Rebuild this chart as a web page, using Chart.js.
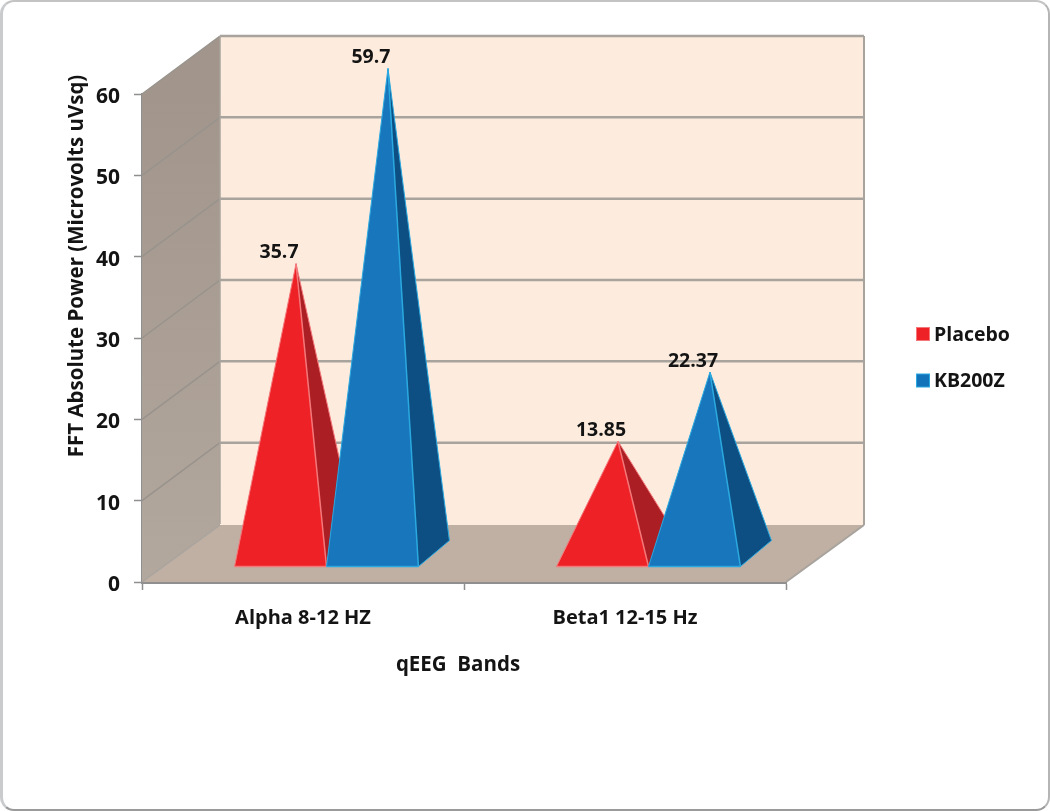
<!DOCTYPE html>
<html lang="en">
<head>
  <meta charset="UTF-8" />
  <title>qEEG Bands</title>
  <style>
    html, body { margin: 0; padding: 0; background: #fff; }
    #frame {
      position: absolute; left: 0; top: 0;
      width: 1050px; height: 811px; box-sizing: border-box;
      border-left: 3px solid #c9cbcd;
      border-bottom: 2px solid #9a9a9a;
      border-right: 2px solid #b5b5b5;
      border-top: 2px solid #c4c4c4;
      border-radius: 14px;
    }
    canvas { position: absolute; left: 0; top: 0; }
  </style>
</head>
<body>
  <div id="frame"></div>
  <canvas id="chart" width="1050" height="811"></canvas>

  <script src="https://cdn.jsdelivr.net/npm/chart.js"></script>
  <script>
    const categories = ['Alpha 8-12 HZ', 'Beta1 12-15 Hz'];
    const seriesNames = ['Placebo', 'KB200Z'];
    const placebo = [35.7, 13.85];
    const kb200z = [59.7, 22.37];
    const valueLabels = [['35.7', '13.85'], ['59.7', '22.37']];
    const yTicks = [0, 10, 20, 30, 40, 50, 60];

    const FONT = '"Open Sans", sans-serif';
    const TEXT = '#141414';

    // 3D look: how far the back wall sits from the front plane
    const DEPTH_X = 78;
    const DEPTH_Y = 58;
    const COLORS = [
      { front: '#ee2226', side: '#ab1e23', edge: '#f4777a' },
      { front: '#1876bc', side: '#0d4f83', edge: '#2aa9e0' }
    ];

    function poly(ctx, pts, fill) {
      ctx.beginPath();
      pts.forEach((p, i) => i ? ctx.lineTo(p[0], p[1]) : ctx.moveTo(p[0], p[1]));
      ctx.closePath();
      ctx.fillStyle = fill;
      ctx.fill();
    }

    function line(ctx, x1, y1, x2, y2, color, width) {
      ctx.beginPath();
      ctx.moveTo(x1, y1);
      ctx.lineTo(x2, y2);
      ctx.strokeStyle = color;
      ctx.lineWidth = width;
      ctx.stroke();
    }

    const wallsPlugin = {
      id: 'walls',
      beforeDatasetsDraw(chart) {
        const { ctx, chartArea: a, scales: { y } } = chart;
        const l = a.left, r = a.right, t = a.top, b = a.bottom;
        ctx.save();
        poly(ctx, [[l + DEPTH_X, t - DEPTH_Y], [r + DEPTH_X, t - DEPTH_Y], [r + DEPTH_X, b - DEPTH_Y + 1], [l + DEPTH_X, b - DEPTH_Y + 1]], '#fdecde');
        const side = ctx.createLinearGradient(0, t, 0, b);
        side.addColorStop(0, '#a2968c');
        side.addColorStop(1, '#b3a89e');
        poly(ctx, [[l, t], [l + DEPTH_X, t - DEPTH_Y], [l + DEPTH_X, b - DEPTH_Y + 1], [l, b]], side);
        poly(ctx, [[l, b], [l + DEPTH_X, b - DEPTH_Y + 1], [r + DEPTH_X, b - DEPTH_Y + 1], [r, b]], '#bfb0a3');
        yTicks.forEach(v => {
          const py = y.getPixelForValue(v);
          if (v > 0) line(ctx, l, py, l + DEPTH_X, py - DEPTH_Y, '#98938d', 1.5);
          if (v > 0) line(ctx, l + DEPTH_X, py - DEPTH_Y, r + DEPTH_X, py - DEPTH_Y, '#a8a39d', 2.5);
        });
        line(ctx, l + DEPTH_X, t - DEPTH_Y, l + DEPTH_X, b - DEPTH_Y, '#a8a39d', 1.5);
        line(ctx, r + DEPTH_X, t - DEPTH_Y, r + DEPTH_X, b - DEPTH_Y + 1, '#a8a39d', 2);
        line(ctx, r, b, r + DEPTH_X, b - DEPTH_Y + 1, '#a8a39d', 2);
        line(ctx, l, b, l + DEPTH_X, b - DEPTH_Y + 1, '#a8a39d', 1.5);
        ctx.restore();
      }
    };

    const pyramidPlugin = {
      id: 'pyramids',
      afterDatasetsDraw(chart) {
        const { ctx } = chart;
        ctx.save();
        // pyramids sit half way into the depth of the floor
        const cx = DEPTH_X / 2, cy = 28;
        const hx = 15.5, hy = 13;
        categories.forEach((c, j) => {
          chart.data.datasets.forEach((ds, i) => {
            const bar = chart.getDatasetMeta(i).data[j];
            const col = COLORS[i];
            const mid = bar.x + cx;
            const hw = bar.width / 2;
            const base = bar.base - cy;
            const apex = [mid, bar.y - cy];
            const fl = [mid - hw - hx, base + hy];
            const fr = [mid + hw - hx, base + hy];
            const br = [mid + hw + hx, base - hy];
            poly(ctx, [fr, br, apex], col.side);
            poly(ctx, [fl, fr, apex], col.front);
            line(ctx, fr[0], fr[1], apex[0], apex[1], col.edge, 1.5);
            line(ctx, fl[0], fl[1], apex[0], apex[1], col.edge, 1);
            line(ctx, br[0], br[1], apex[0], apex[1], col.edge, 1);
            line(ctx, fl[0], fl[1], fr[0], fr[1], col.edge, 1.5);
            line(ctx, fr[0], fr[1], br[0], br[1], col.edge, 1);
          });
        });
        // value labels, up and to the left of each tip
        ctx.font = 'bold 19.5px ' + FONT;
        ctx.fillStyle = TEXT;
        ctx.textAlign = 'center';
        ctx.textBaseline = 'middle';
        categories.forEach((c, j) => {
          chart.data.datasets.forEach((ds, i) => {
            const bar = chart.getDatasetMeta(i).data[j];
            ctx.fillText(valueLabels[i][j], bar.x + cx - 17, bar.y - cy - 11);
          });
        });
        // axis titles
        ctx.font = 'bold 20.5px ' + FONT;
        ctx.fillText('qEEG  Bands', 458, 665);
        ctx.save();
        ctx.translate(77, 266);
        ctx.rotate(-Math.PI / 2);
        ctx.fillText('FFT Absolute Power (Microvolts uVsq)', 0, 0);
        ctx.restore();
        // legend
        ctx.font = 'bold 19.5px ' + FONT;
        ctx.textAlign = 'left';
        seriesNames.forEach((name, i) => {
          const top = 327 + i * 46.5;
          ctx.fillStyle = COLORS[i].edge;
          ctx.fillRect(916, top, 14, 14);
          ctx.fillStyle = i ? '#1272ba' : '#ee2226';
          ctx.fillRect(917, top + 1, 12, 12);
          ctx.fillStyle = TEXT;
          ctx.fillText(name, 934, top + 8);
        });
        ctx.restore();
      }
    };

    new Chart(document.getElementById('chart'), {
      type: 'bar',
      data: {
        labels: categories,
        datasets: [
          { label: seriesNames[0], data: placebo, backgroundColor: 'transparent' },
          { label: seriesNames[1], data: kb200z, backgroundColor: 'transparent' }
        ]
      },
      plugins: [wallsPlugin, pyramidPlugin],
      options: {
        responsive: false,
        animation: false,
        layout: { padding: { left: 0, top: 94, right: 264, bottom: 129 } },
        datasets: { bar: { barPercentage: 1, categoryPercentage: 0.571 } },
        plugins: { legend: { display: false }, tooltip: { enabled: false } },
        scales: {
          x: {
            afterFit(scale) { scale.height = 100; },
            grid: { offset: true, drawOnChartArea: false, tickLength: 8, color: '#8f8f8f', tickWidth: 1.5 },
            border: { color: '#8f8f8f', width: 3 },
            ticks: { color: TEXT, padding: 16, font: { family: FONT, size: 20, weight: 'bold' } }
          },
          y: {
            min: 0,
            max: 60,
            afterFit(scale) { scale.width = 142; },
            grid: { drawOnChartArea: false, tickLength: 8, color: '#8f8f8f', tickWidth: 1.5 },
            border: { color: '#8f8f8f', width: 2.5 },
            ticks: { stepSize: 10, color: TEXT, padding: 14, labelOffset: 3, font: { family: FONT, size: 21, weight: 'bold' } }
          }
        }
      }
    });
  </script>
</body>
</html>
